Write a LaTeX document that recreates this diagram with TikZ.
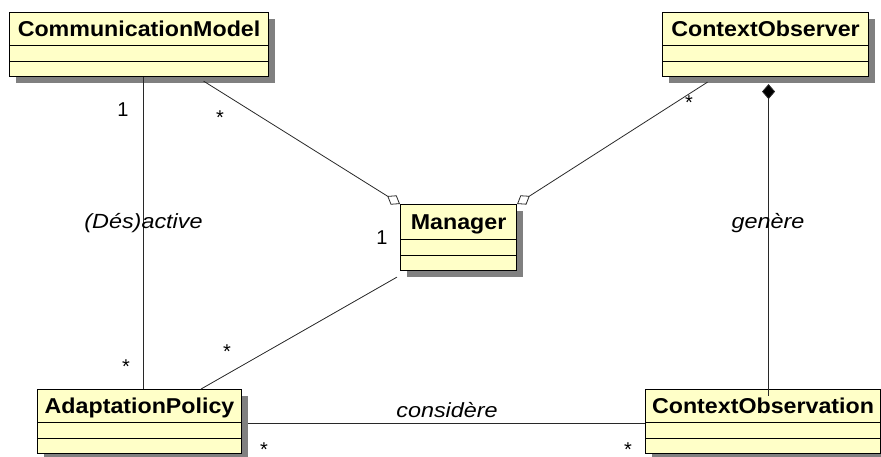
\documentclass[tikz,border=0pt]{standalone}
\usepackage{fontspec}
\setmainfont{Liberation Sans}
\newfontfamily\clsfont[FakeStretch=1.08]{Liberation Sans}
\newfontfamily\lblfont[FakeStretch=1.14]{Liberation Sans}
\usetikzlibrary{arrows.meta,shadows,calc}
\definecolor{umlfill}{RGB}{255,255,200}
\definecolor{umlshadow}{RGB}{128,128,128}
\definecolor{umlline}{RGB}{40,40,40}
\begin{document}
\begin{tikzpicture}[x=1pt,y=-1pt,
  cls/.style={draw=black, fill=umlfill, line width=1.1pt, anchor=north west, inner sep=0pt,
    drop shadow={shadow xshift=6pt, shadow yshift=-6pt, fill=umlshadow, opacity=1}},
  ttl/.style={font=\clsfont\bfseries\fontsize{21.5}{24}\selectfont, inner sep=0pt, text height=15.5pt, text depth=0pt},
  sep/.style={draw=black, line width=0.9pt},
  assoc/.style={draw=umlline, line width=0.8pt},
  lbl/.style={font=\lblfont\itshape\fontsize{20.5}{24}\selectfont, inner sep=0pt, anchor=base},
  mult/.style={font=\fontsize{20}{24}\selectfont, inner sep=0pt, anchor=base},
  aggend/.style={-{Diamond[fill=white,length=15pt,width=11pt]}},
  compstart/.style={{Diamond[fill=black,length=15pt,width=13pt]}-}
]
\useasboundingbox (0,0) rectangle (881,457);

% classes
\node[cls, minimum width=259pt, minimum height=64pt] (cm) at (9,12) {};
\node[ttl] (cmt) at ($(cm.north)+(0,16.5)$) {CommunicationModel};
\draw[sep] ([yshift=-33pt]cm.north west) -- ([yshift=-33pt]cm.north east);
\draw[sep] ([yshift=-49pt]cm.north west) -- ([yshift=-49pt]cm.north east);

\node[cls, minimum width=206pt, minimum height=64pt] (co) at (662,12) {};
\node[ttl] (cot) at ($(co.north)+(0,16.5)$) {ContextObserver};
\draw[sep] ([yshift=-33pt]co.north west) -- ([yshift=-33pt]co.north east);
\draw[sep] ([yshift=-49pt]co.north west) -- ([yshift=-49pt]co.north east);

\node[cls, minimum width=116pt, minimum height=66pt] (mg) at (400,204) {};
\node[ttl] (mgt) at ($(mg.north)+(0,17.5)$) {Manager};
\draw[sep] ([yshift=-35pt]mg.north west) -- ([yshift=-35pt]mg.north east);
\draw[sep] ([yshift=-51pt]mg.north west) -- ([yshift=-51pt]mg.north east);

\node[cls, minimum width=204pt, minimum height=64pt] (ap) at (37,389) {};
\node[ttl] (apt) at ($(ap.north)+(0,16.5)$) {AdaptationPolicy};
\draw[sep] ([yshift=-33pt]ap.north west) -- ([yshift=-33pt]ap.north east);
\draw[sep] ([yshift=-49pt]ap.north west) -- ([yshift=-49pt]ap.north east);

\node[cls, minimum width=235pt, minimum height=64pt] (cob) at (645,389) {};
\node[ttl] (cobt) at ($(cob.north)+(0,16.5)$) {ContextObservation};
\draw[sep] ([yshift=-33pt]cob.north west) -- ([yshift=-33pt]cob.north east);
\draw[sep] ([yshift=-49pt]cob.north west) -- ([yshift=-49pt]cob.north east);

% connectors
\draw[assoc] ([xshift=4pt]ap.north) -- ([xshift=4pt]ap.north |- cm.south);
\draw[assoc, aggend] ([shift={(64.5,4)}]cm.south) -- (mg.north west);
\draw[assoc, aggend] ([shift={(-58,5)}]co.south) -- (mg.north east);
\draw[assoc, compstart] ([shift={(3,7)}]co.south) -- ([shift={(3,7)}]co.south |- cob.north);
\draw[assoc] ([shift={(-3,6)}]mg.south west) -- ([xshift=-41pt]ap.north east);
\draw[assoc] ([shift={(6,2)}]ap.east) -- ([shift={(0,2)}]cob.west);

% labels
\node[mult] (m1) at (123,117) {1};
\node[mult] (m2) at (220,124.5) {*};
\node[mult] (m3) at (689,109.5) {*};
\node[lbl] (l1) at (143.5,229) {(Dés)active};
\node[mult] (m4) at (382,244) {1};
\node[lbl] (l2) at (768,229) {genère};
\node[mult] (m5) at (126,373.5) {*};
\node[mult] (m6) at (227,358.5) {*};
\node[lbl] (l3) at (447,417) {considère};
\node[mult] (m7) at (264,456) {*};
\node[mult] (m8) at (628,456) {*};
\end{tikzpicture}
\end{document}
